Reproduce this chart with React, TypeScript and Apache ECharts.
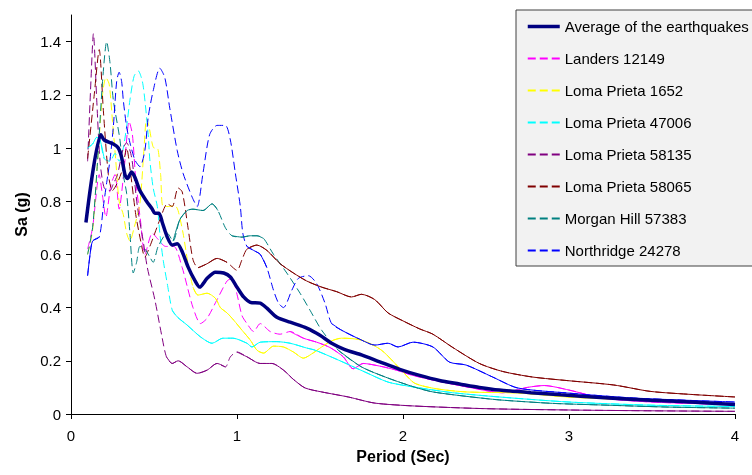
import React, { useEffect, useRef } from "react";
import * as echarts from "echarts";

type Pt = [number, number];

const seriesNames = [
  "Average of the earthquakes",
  "Landers 12149",
  "Loma Prieta 1652",
  "Loma Prieta 47006",
  "Loma Prieta 58135",
  "Loma Prieta 58065",
  "Morgan Hill 57383",
  "Northridge 24278",
];

const xTicks = [0, 1, 2, 3, 4];
const yTicks = [0, 0.2, 0.4, 0.6, 0.8, 1, 1.2, 1.4];

const average: Pt[] = [
  [0.09, 0.72], [0.18, 1.05], [0.2, 1.03], [0.255, 1.015], [0.285, 1.0], [0.305, 0.965], [0.325, 0.9],
  [0.34, 0.885], [0.365, 0.91], [0.385, 0.89], [0.415, 0.84], [0.455, 0.8], [0.49, 0.77], [0.505, 0.755],
  [0.53, 0.755], [0.55, 0.72], [0.58, 0.665], [0.61, 0.635], [0.64, 0.64], [0.67, 0.61], [0.705, 0.553],
  [0.745, 0.503], [0.775, 0.477], [0.82, 0.51], [0.87, 0.533], [0.92, 0.53], [0.96, 0.515], [1.0, 0.477],
  [1.04, 0.44], [1.08, 0.42], [1.14, 0.417], [1.18, 0.398], [1.24, 0.364], [1.32, 0.345], [1.42, 0.323],
  [1.5, 0.296], [1.57, 0.266], [1.65, 0.242], [1.75, 0.222], [1.86, 0.196], [1.98, 0.168], [2.1, 0.145],
  [2.22, 0.126], [2.34, 0.113], [2.46, 0.1], [2.58, 0.09], [2.77, 0.08], [2.95, 0.072], [3.19, 0.062],
  [3.49, 0.052], [3.79, 0.043], [4.0, 0.036],
];

const landers: Pt[] = [
  [0.1, 0.62], [0.13, 0.7], [0.17, 0.9], [0.19, 0.82], [0.21, 0.74], [0.24, 0.86], [0.265, 0.9], [0.29, 0.77],
  [0.32, 0.92], [0.35, 1.1], [0.37, 1.05], [0.39, 0.88], [0.42, 0.72], [0.445, 0.6], [0.49, 0.68], [0.52, 0.66],
  [0.57, 0.63], [0.62, 0.63], [0.67, 0.55], [0.7, 0.48], [0.735, 0.4], [0.78, 0.34], [0.82, 0.36], [0.88, 0.43],
  [0.94, 0.5], [0.97, 0.51], [1.0, 0.45], [1.03, 0.37], [1.06, 0.34], [1.1, 0.31], [1.14, 0.34], [1.2, 0.31],
  [1.26, 0.3], [1.32, 0.31], [1.4, 0.285], [1.48, 0.27], [1.56, 0.25], [1.64, 0.215], [1.7, 0.17], [1.76, 0.19],
  [1.86, 0.18], [1.96, 0.165], [2.06, 0.145], [2.2, 0.125], [2.4, 0.1], [2.6, 0.08], [2.75, 0.1], [2.85, 0.107],
  [3.0, 0.09], [3.2, 0.06], [3.5, 0.045], [4.0, 0.035],
];

const lomaPrieta1652: Pt[] = [
  [0.1, 0.6], [0.13, 0.69], [0.16, 0.95], [0.19, 1.2], [0.21, 1.265], [0.23, 1.24], [0.25, 1.1], [0.27, 0.95],
  [0.29, 0.8], [0.315, 0.75], [0.335, 0.68], [0.355, 0.65], [0.38, 0.7], [0.415, 0.79], [0.44, 1.0], [0.455, 1.11],
  [0.47, 1.08], [0.5, 1.0], [0.52, 1.0], [0.54, 0.9], [0.555, 0.78], [0.6, 0.78], [0.625, 0.785], [0.645, 0.765],
  [0.675, 0.68], [0.705, 0.565], [0.735, 0.477], [0.765, 0.447], [0.82, 0.454], [0.87, 0.435], [0.9, 0.4],
  [0.94, 0.38], [0.98, 0.353], [1.03, 0.315], [1.08, 0.278], [1.12, 0.24], [1.16, 0.229], [1.22, 0.255],
  [1.28, 0.252], [1.34, 0.233], [1.4, 0.21], [1.46, 0.23], [1.51, 0.252], [1.57, 0.275], [1.63, 0.285],
  [1.75, 0.278], [1.87, 0.24], [1.99, 0.165], [2.07, 0.116], [2.2, 0.095], [2.38, 0.083], [2.69, 0.079],
  [2.99, 0.064], [3.39, 0.053], [4.0, 0.038],
];

const lomaPrieta47006: Pt[] = [
  [0.1, 1.0], [0.13, 1.015], [0.155, 1.04], [0.175, 1.03], [0.2, 0.96], [0.235, 0.95], [0.265, 0.98], [0.29, 0.95],
  [0.315, 1.0], [0.335, 1.08], [0.355, 1.18], [0.38, 1.27], [0.405, 1.29], [0.43, 1.25], [0.445, 1.18],
  [0.465, 1.05], [0.475, 0.955], [0.495, 0.85], [0.52, 0.78], [0.535, 0.68], [0.555, 0.58], [0.58, 0.49],
  [0.61, 0.39], [0.64, 0.365], [0.7, 0.334], [0.78, 0.29], [0.85, 0.266], [0.915, 0.285], [0.975, 0.285],
  [1.06, 0.266], [1.09, 0.252], [1.14, 0.27], [1.24, 0.272], [1.32, 0.266], [1.42, 0.248], [1.47, 0.24],
  [1.61, 0.203], [1.77, 0.158], [1.91, 0.12], [2.07, 0.101], [2.3, 0.08], [2.58, 0.064], [3.0, 0.045],
  [3.5, 0.033], [4.0, 0.028],
];

const lomaPrieta58135: Pt[] = [
  [0.1, 0.95], [0.12, 1.25], [0.135, 1.43], [0.155, 1.18], [0.175, 0.95], [0.2, 0.85], [0.235, 0.84],
  [0.255, 0.865], [0.28, 0.9], [0.315, 1.0], [0.335, 1.02], [0.365, 0.965], [0.4, 0.78], [0.435, 0.65],
  [0.46, 0.55], [0.505, 0.43], [0.545, 0.3], [0.575, 0.215], [0.61, 0.19], [0.645, 0.2], [0.7, 0.177],
  [0.76, 0.153], [0.82, 0.165], [0.88, 0.19], [0.93, 0.177], [0.96, 0.215], [1.0, 0.233], [1.06, 0.215],
  [1.14, 0.19], [1.21, 0.19], [1.28, 0.165], [1.34, 0.13], [1.41, 0.098], [1.51, 0.083], [1.67, 0.064],
  [1.83, 0.041], [2.07, 0.03], [2.5, 0.02], [3.0, 0.015], [3.5, 0.012], [4.0, 0.01],
];

const lomaPrieta58065: Pt[] = [
  [0.1, 0.96], [0.14, 1.2], [0.17, 1.37], [0.195, 1.14], [0.225, 0.9], [0.25, 0.84], [0.28, 0.87], [0.31, 0.92],
  [0.335, 1.0], [0.36, 0.9], [0.39, 0.75], [0.42, 0.65], [0.445, 0.59], [0.475, 0.63], [0.505, 0.68],
  [0.535, 0.73], [0.58, 0.79], [0.61, 0.78], [0.645, 0.85], [0.67, 0.835], [0.705, 0.7], [0.735, 0.58],
  [0.765, 0.55], [0.82, 0.565], [0.88, 0.585], [0.94, 0.57], [1.0, 0.54], [1.03, 0.58], [1.06, 0.62],
  [1.12, 0.635], [1.18, 0.615], [1.26, 0.565], [1.34, 0.53], [1.42, 0.5], [1.51, 0.477], [1.6, 0.46],
  [1.69, 0.44], [1.75, 0.45], [1.83, 0.43], [1.91, 0.38], [2.0, 0.35], [2.1, 0.32], [2.18, 0.3], [2.3, 0.25],
  [2.46, 0.19], [2.6, 0.16], [2.78, 0.139], [3.0, 0.125], [3.27, 0.109], [3.49, 0.085], [3.75, 0.073],
  [4.0, 0.064],
];

const morganHill57383: Pt[] = [
  [0.1, 0.6], [0.13, 0.7], [0.16, 0.95], [0.19, 1.25], [0.215, 1.4], [0.235, 1.32], [0.255, 1.18],
  [0.295, 1.03], [0.315, 0.9], [0.335, 0.83], [0.355, 0.68], [0.375, 0.53], [0.395, 0.57], [0.415, 0.63],
  [0.445, 0.62], [0.475, 0.59], [0.495, 0.57], [0.525, 0.63], [0.58, 0.68], [0.615, 0.65], [0.655, 0.73],
  [0.7, 0.765], [0.735, 0.77], [0.795, 0.765], [0.85, 0.79], [0.885, 0.765], [0.93, 0.7], [0.97, 0.67],
  [1.03, 0.665], [1.08, 0.67], [1.12, 0.67], [1.16, 0.66], [1.22, 0.6], [1.3, 0.53], [1.38, 0.454],
  [1.44, 0.39], [1.51, 0.315], [1.61, 0.24], [1.75, 0.177], [1.91, 0.135], [2.07, 0.101], [2.18, 0.083],
  [2.4, 0.065], [2.58, 0.053], [2.9, 0.04], [3.19, 0.034], [3.6, 0.026], [4.0, 0.022],
];

const northridge24278: Pt[] = [
  [0.1, 0.52], [0.115, 0.6], [0.13, 0.65], [0.17, 0.665], [0.195, 0.78], [0.215, 0.87], [0.235, 0.955],
  [0.255, 1.08], [0.275, 1.25], [0.29, 1.285], [0.305, 1.25], [0.315, 1.18], [0.335, 1.08], [0.355, 1.02],
  [0.385, 0.955], [0.415, 0.93], [0.445, 0.99], [0.465, 1.115], [0.495, 1.215], [0.535, 1.3], [0.565, 1.265],
  [0.595, 1.15], [0.64, 0.99], [0.675, 0.905], [0.73, 0.815], [0.76, 0.78], [0.795, 0.905], [0.835, 1.05],
  [0.88, 1.085], [0.93, 1.085], [0.96, 1.03], [0.99, 0.905], [1.02, 0.78], [1.035, 0.68], [1.06, 0.63],
  [1.1, 0.615], [1.14, 0.6], [1.18, 0.55], [1.22, 0.465], [1.25, 0.417], [1.28, 0.4], [1.33, 0.465],
  [1.37, 0.51], [1.43, 0.52], [1.48, 0.49], [1.53, 0.417], [1.57, 0.34], [1.63, 0.315], [1.75, 0.278],
  [1.83, 0.259], [1.91, 0.266], [1.97, 0.252], [2.06, 0.27], [2.18, 0.252], [2.28, 0.195], [2.38, 0.184],
  [2.54, 0.139], [2.69, 0.098], [2.99, 0.079], [3.39, 0.06], [4.0, 0.045],
];

const quakeData: Pt[][] = [
  landers, lomaPrieta1652, lomaPrieta47006, lomaPrieta58135, lomaPrieta58065, morganHill57383, northridge24278,
];
const quakeColors = ["#FF00FF", "#FFFF00", "#00FFFF", "#800080", "#800000", "#008080", "#0000FF"];
// x-ranges where the reference line renders solid (flat parts)
const solidRanges: [number, number][][] = [
  [[1.3, 4]],
  [[0.735, 4]],
  [[0.1, 0.2], [0.6, 4]],
  [[0.575, 0.93], [1.0, 4]],
  [[0.765, 0.94], [1.06, 4]],
  [[0.615, 0.885], [0.97, 1.16], [1.61, 4]],
  [[0.1, 0.17], [1.06, 1.18], [1.57, 4]],
];

const FONT = "'Liberation Sans', Arial, sans-serif";

export default function App() {
  const ref = useRef<HTMLDivElement>(null);
  useEffect(() => {
    const chart = echarts.init(ref.current!, null, { renderer: "svg" });
    const series: any[] = [];
    quakeData.forEach((d, i) => {
      series.push({
        name: seriesNames[i + 1],
        type: "line",
        data: d,
        symbol: "none",
        smooth: 0.25,
        lineStyle: { color: quakeColors[i], width: 1, type: [8, 4] },
        itemStyle: { color: quakeColors[i] },
        z: 2,
      });
    });
    quakeData.forEach((d, i) => {
      const ranges = solidRanges[i];
      series.push({
        name: seriesNames[i + 1] + " (solid)",
        type: "line",
        data: d.map(([x, y]) =>
          ranges.some(([a, b]) => x >= a - 1e-9 && x <= b + 1e-9) ? [x, y] : [x, null]
        ),
        symbol: "none",
        smooth: 0.25,
        connectNulls: false,
        lineStyle: { color: quakeColors[i], width: 1, type: "solid" },
        itemStyle: { color: quakeColors[i] },
        z: 3,
      });
    });
    series.push({
      name: seriesNames[0],
      type: "line",
      data: average,
      symbol: "none",
      smooth: 0.25,
      lineStyle: { color: "#000080", width: 3.5, type: "solid" },
      itemStyle: { color: "#000080" },
      z: 5,
    });

    const legendData: any[] = seriesNames.map((n, i) =>
      i === 0 ? { name: n, lineStyle: { width: 3.5, color: "#000080", type: "solid" } } : { name: n }
    );

    chart.setOption({
      animation: false,
      grid: { left: 71, right: 17, top: 15, bottom: 61, containLabel: false },
      legend: {
        data: legendData,
        orient: "vertical",
        left: 516,
        top: 10,
        padding: [9, 5, 8, 10],
        itemWidth: 32,
        itemHeight: 14,
        itemGap: 17,
        backgroundColor: "#F2F2F2",
        borderColor: "#404040",
        borderWidth: 1,
        itemStyle: { opacity: 0 },
        textStyle: { fontSize: 15, color: "#000", fontFamily: FONT },
      },
      xAxis: {
        type: "value",
        min: 0,
        max: 4,
        interval: 1,
        name: "Period (Sec)",
        nameLocation: "middle",
        nameGap: 34,
        nameTextStyle: { fontSize: 16, fontWeight: "bold", color: "#000", fontFamily: FONT },
        axisLine: { show: true, onZero: false, lineStyle: { color: "#000", width: 1 } },
        axisTick: { show: true, inside: false, length: 5, lineStyle: { color: "#000" }, customValues: xTicks },
        axisLabel: { color: "#000", fontSize: 15, fontFamily: FONT, margin: 14, customValues: xTicks },
        splitLine: { show: false },
      },
      yAxis: {
        type: "value",
        min: 0,
        max: 1.5,
        interval: 0.2,
        name: "Sa (g)",
        nameLocation: "middle",
        nameRotate: 90,
        nameGap: 40,
        nameTextStyle: { fontSize: 16, fontWeight: "bold", color: "#000", fontFamily: FONT },
        axisLine: { show: true, onZero: false, lineStyle: { color: "#000", width: 1 } },
        axisTick: { show: true, inside: false, length: 5, lineStyle: { color: "#000" }, customValues: yTicks },
        axisLabel: {
          color: "#000",
          fontSize: 15,
          fontFamily: FONT,
          margin: 10,
          customValues: yTicks,
          formatter: (v: number) => (v > 1.45 ? "" : String(Math.round(v * 10) / 10)),
        },
        splitLine: { show: false },
      },
      series,
    });
    return () => chart.dispose();
  }, []);
  return <div ref={ref} style={{ position: "fixed", left: 0, top: 0, width: 752, height: 475 }} />;
}
